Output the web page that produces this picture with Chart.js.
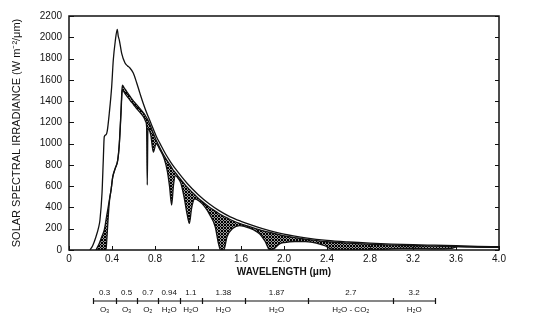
<!DOCTYPE html>
<html lang="en">
<head>
  <meta charset="UTF-8" />
  <title>Solar spectral irradiance</title>
  <script src="https://cdn.jsdelivr.net/npm/chart.js"></script>
  <style>
    html, body { margin: 0; padding: 0; background: #fff; }
  </style>
</head>
<body>
  <canvas id="irradiance" width="535" height="323"></canvas>

  <script>
    // irradiance outside the atmosphere (W m-2 / um)
    const wlTop = [0.195, 0.22, 0.251, 0.275, 0.288, 0.307, 0.319, 0.328, 0.345, 0.356, 0.375, 0.397, 0.412, 0.43, 0.449,
      0.458, 0.468, 0.49, 0.521, 0.545, 0.567, 0.598, 0.63, 0.66, 0.69, 0.723, 0.753, 0.785, 0.816, 0.847, 0.9, 0.95, 1.0,
      1.1, 1.2, 1.3, 1.4, 1.5, 1.6, 1.7, 1.8, 2.0, 2.2, 2.4, 2.6, 2.8, 3.0, 3.2, 3.4, 3.6, 3.8, 4.0];
    const irrTop = [0, 40, 125, 210, 282, 533, 846, 1065, 1085, 1120, 1288, 1535, 1786, 1960, 2075,
      2010, 1974, 1849, 1758, 1730, 1711, 1664, 1570, 1473, 1380, 1288, 1215, 1135, 1060, 1000, 900, 820, 750,
      625, 522, 437, 368, 312, 270, 234, 202, 150, 115, 90, 75, 64, 56, 50, 45, 40, 35, 31];

    // at sea level: scattering only, and with gas absorption bands
    const wlSea = [0.251, 0.282, 0.305, 0.328, 0.344, 0.352, 0.363, 0.377, 0.391, 0.407, 0.43, 0.453, 0.468, 0.484, 0.492,
      0.497, 0.51, 0.53, 0.55, 0.57, 0.6, 0.635, 0.67, 0.7, 0.715, 0.722, 0.728, 0.734, 0.76, 0.785, 0.81, 0.845, 0.885,
      0.915, 0.935, 0.955, 0.972, 0.99, 1.01, 1.04, 1.07, 1.1, 1.12, 1.14, 1.17, 1.21, 1.26, 1.31, 1.36, 1.39, 1.41, 1.44,
      1.47, 1.525, 1.585, 1.635, 1.715, 1.775, 1.825, 1.865, 1.905, 1.955, 2.005, 2.1, 2.2, 2.3, 2.38, 2.45, 2.6, 2.8,
      2.95, 3.1, 3.25, 3.4, 3.55, 3.62, 3.8, 4.0];
    const irrClear = [0, 63, 125, 188, 280, 330, 395, 480, 564, 689, 770, 846, 1003, 1316, 1500,
      1551, 1530, 1500, 1470, 1441, 1400, 1360, 1318, 1280, 1255, 1243, 1233, 1222, 1160, 1095, 1035, 962, 885,
      838, 807, 775, 748, 728, 700, 663, 626, 590, 569, 549, 519, 480, 439, 399, 366, 346, 334, 317,
      302, 275, 250, 234, 208, 190, 176, 167, 157, 145, 133, 117, 101, 89, 80, 75, 64, 54,
      48, 43, 40, 36, 33, 32, 28, 25];
    const irrAbsorbed = [0, 0, 0, 0, 0, 100, 282, 465, 560, 685, 765, 840, 990, 1290, 1460,
      1505, 1488, 1458, 1432, 1405, 1368, 1322, 1282, 1240, 1205, 1160, 611, 1140, 1085, 920, 1000, 945, 860,
      740, 600, 423, 610, 700, 680, 630, 500, 330, 251, 390, 480, 460, 410, 330, 219, 63, 0, 0,
      125, 204, 230, 220, 190, 150, 80, 5, 10, 55, 70, 80, 78, 65, 40, 5, 0, 0,
      8, 15, 14, 10, 15, 32, 28, 25];

    // absorption band strip under the axis
    const bandEdges = [0.226, 0.437, 0.635, 0.831, 1.033, 1.234, 1.637, 2.226, 3.017, 3.405];
    const bandCentres = ['0.3', '0.5', '0.7', '0.94', '1.1', '1.38', '1.87', '2.7', '3.2'];
    const bandGases = ['O₃', 'O₃', 'O₂', 'H₂O', 'H₂O', 'H₂O', 'H₂O', 'H₂O - CO₂', 'H₂O'];

    const ink = '#111';
    Chart.defaults.font.family = '"Liberation Sans", Arial, sans-serif';
    Chart.defaults.color = ink;

    const canvas = document.getElementById('irradiance');
    const ctx = canvas.getContext('2d');

    // fine dark cross-hatching for the absorbed part
    function crossHatch() {
      const tile = document.createElement('canvas');
      tile.width = 3; tile.height = 3;
      const g = tile.getContext('2d');
      g.fillStyle = '#9a9a9a';
      g.fillRect(0, 0, 3, 3);
      g.fillStyle = '#000';
      [[0, 0], [1, 1], [2, 2], [2, 0], [0, 2]].forEach(([px, py]) => g.fillRect(px, py, 1, 1));
      return ctx.createPattern(tile, 'repeat');
    }

    const points = (xs, ys) => xs.map((x, i) => ({ x, y: ys[i] }));

    const curve = {
      borderColor: ink,
      borderWidth: 1.3,
      pointRadius: 0,
      cubicInterpolationMode: 'monotone',
      fill: false
    };

    // box with inward tick marks
    const frame = {
      id: 'frame',
      afterDatasetsDraw(chart) {
        const { ctx, chartArea: a, scales } = chart;
        ctx.save();
        ctx.strokeStyle = ink;
        ctx.lineWidth = 1.5;
        ctx.strokeRect(a.left, a.top, a.right - a.left, a.bottom - a.top);
        ctx.lineWidth = 1;
        ctx.beginPath();
        scales.y.ticks.forEach(t => {
          const y = Math.round(scales.y.getPixelForValue(t.value)) + 0.5;
          ctx.moveTo(a.left, y); ctx.lineTo(a.left + 5, y);
          ctx.moveTo(a.right, y); ctx.lineTo(a.right - 4, y);
        });
        scales.x.ticks.forEach(t => {
          const x = Math.round(scales.x.getPixelForValue(t.value)) + 0.5;
          ctx.moveTo(x, a.bottom); ctx.lineTo(x, a.bottom - 4);
        });
        ctx.stroke();
        ctx.restore();
      }
    };

    const bandStrip = {
      id: 'bandStrip',
      afterDraw(chart) {
        const { ctx } = chart;
        const x = v => chart.scales.x.getPixelForValue(v);
        const lineY = 301;
        ctx.save();
        ctx.strokeStyle = ink;
        ctx.lineWidth = 1.2;
        ctx.beginPath();
        ctx.moveTo(x(bandEdges[0]), lineY);
        ctx.lineTo(x(bandEdges[bandEdges.length - 1]), lineY);
        bandEdges.forEach(e => {
          const px = Math.round(x(e)) + 0.5;
          ctx.moveTo(px, lineY - 3); ctx.lineTo(px, lineY + 3);
        });
        ctx.stroke();
        ctx.fillStyle = ink;
        ctx.font = '8px "Liberation Sans", Arial, sans-serif';
        ctx.textAlign = 'center';
        ctx.textBaseline = 'middle';
        bandCentres.forEach((label, i) => {
          const mid = (x(bandEdges[i]) + x(bandEdges[i + 1])) / 2;
          ctx.fillText(label, mid, lineY - 8);
          ctx.fillText(bandGases[i], mid, lineY + 9);
        });
        ctx.restore();
      }
    };

    new Chart(ctx, {
      type: 'line',
      data: {
        datasets: [
          { ...curve, label: 'Outside atmosphere', data: points(wlTop, irrTop) },
          { ...curve, label: 'Sea level, scattering only', data: points(wlSea, irrClear) },
          {
            ...curve,
            label: 'Sea level',
            data: points(wlSea, irrAbsorbed),
            fill: '-1',
            backgroundColor: crossHatch()
          }
        ]
      },
      options: {
        responsive: false,
        animation: false,
        layout: { padding: { left: 0, right: 36, top: 16, bottom: 45 } },
        plugins: { legend: { display: false }, tooltip: { enabled: false } },
        scales: {
          x: {
            type: 'linear',
            min: 0,
            max: 4,
            grid: { display: false, drawTicks: false },
            border: { display: false },
            ticks: {
              stepSize: 0.4,
              padding: 3,
              maxRotation: 0,
              font: { size: 10 },
              callback: v => (v === 0 ? '0' : v.toFixed(1))
            },
            title: {
              display: true,
              text: 'WAVELENGTH (μm)',
              font: { size: 10, weight: 'bold' },
              padding: { top: 0, bottom: 0 }
            },
            afterFit: s => { s.height = 28; }
          },
          y: {
            min: 0,
            max: 2200,
            grid: { display: false, drawTicks: false },
            border: { display: false },
            ticks: { stepSize: 200, padding: 7, font: { size: 10 }, callback: v => String(v) },
            title: {
              display: true,
              text: 'SOLAR SPECTRAL IRRADIANCE (W m⁻²/μm)',
              font: { size: 11 },
              padding: { top: 10, bottom: 0 }
            },
            afterFit: s => { s.width = 69; }
          }
        }
      },
      plugins: [frame, bandStrip]
    });
  </script>
</body>
</html>
